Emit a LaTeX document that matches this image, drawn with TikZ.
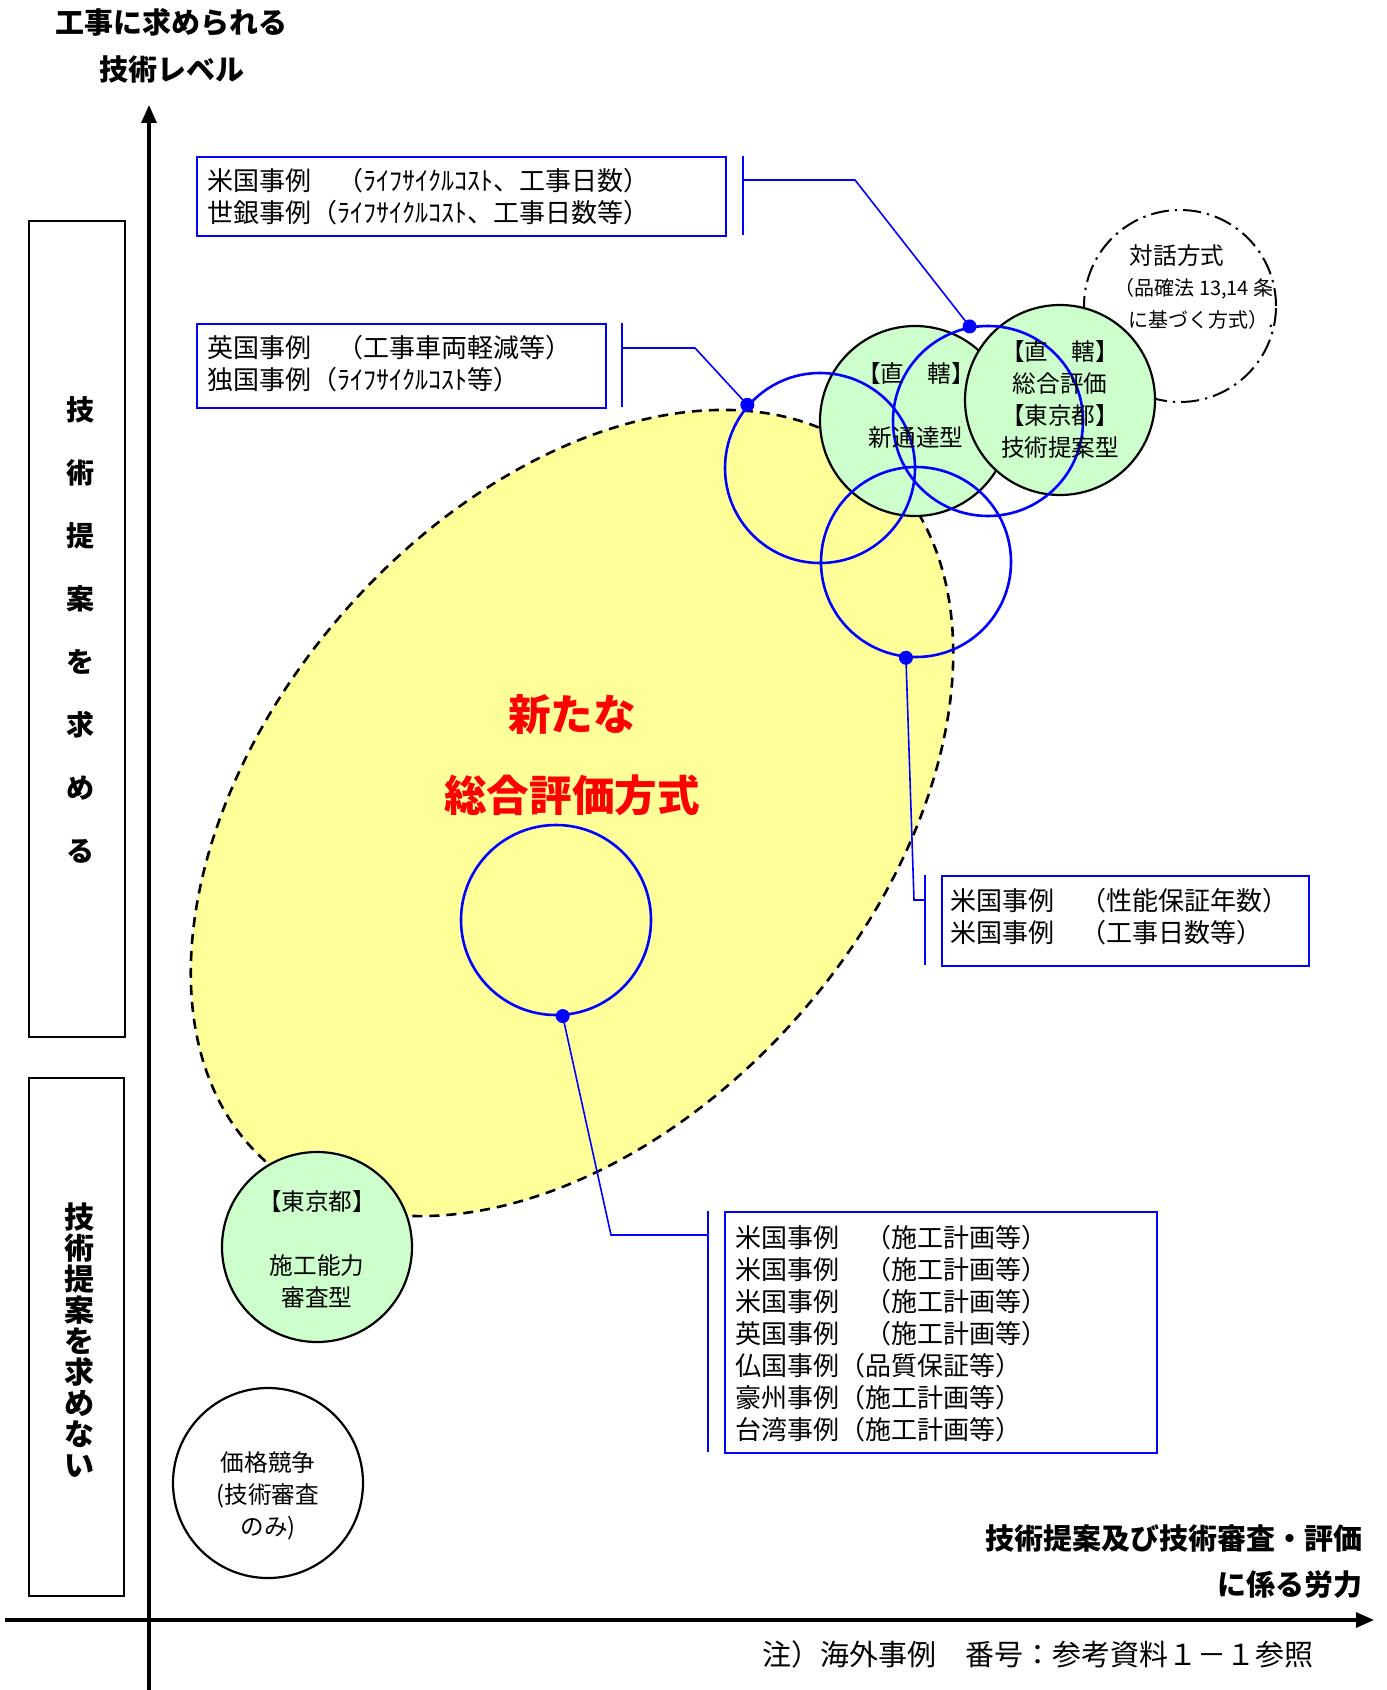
\documentclass[tikz,border=0pt]{standalone}
\usepackage{fontspec}
\setmainfont{Noto Sans CJK JP}
\usetikzlibrary{arrows.meta,shapes.geometric}
\definecolor{ylw}{HTML}{FFFF99}
\definecolor{grn}{HTML}{CCFFCC}
\definecolor{blu}{HTML}{0000FF}
\definecolor{rd}{HTML}{FF0000}
\newcommand{\fsz}[2]{\fontsize{#1}{#2}\selectfont}
\begin{document}
\begin{tikzpicture}[x=0.5pt,y=-0.5pt,
  axisline/.style={line width=1.6pt,-{Triangle[length=9pt,width=7.5pt]}},
  sidebox/.style={draw,line width=0.9pt,inner sep=0},
  gcirc/.style={circle,draw,line width=1.1pt,fill=grn,minimum size=95pt,inner sep=0},
  wcirc/.style={circle,draw,line width=1.1pt,fill=white,minimum size=95pt,inner sep=0},
  bcirc/.style={circle,draw=blu,line width=1.3pt,minimum size=95pt,inner sep=0},
  casebox/.style={draw=blu,line width=1pt,anchor=north west,inner sep=0},
  conn/.style={blu,line width=0.8pt},
  dotm/.style={circle,fill=blu,inner sep=0,minimum size=7pt},
  ctext/.style={font=\fsz{11.8}{16},align=center,inner sep=0},
  btext/.style={font=\fsz{13}{16},align=left,anchor=west,inner sep=0},
  ttl/.style={font=\bfseries\fsz{14.5}{18},inner sep=0},
]
\useasboundingbox (0,0) rectangle (1386,1690);

% axes
\coordinate (yb) at (149,1690);
\coordinate (yt) at (149,105);
\coordinate (xl) at (5,1620);
\coordinate (xr) at (1374,1620);
\draw[axisline] (yb) -- (yt);
\draw[axisline] (xl) -- (xr);

% side boxes
\node[sidebox,minimum width=48pt,minimum height=408pt] (sb1) at (77,629) {};
\node[sidebox,minimum width=47.5pt,minimum height=259pt] (sb2) at (76.5,1337) {};
\node[font=\bfseries\fsz{14}{31.5},align=center,inner sep=0] (s1t) at (80,630) {技\\術\\提\\案\\を\\求\\め\\る};
\node[font=\bfseries\fsz{15}{15.5},align=center,inner sep=0] (s2t) at (79,1340) {技\\術\\提\\案\\を\\求\\め\\な\\い};

% titles
\node[ttl] (ti1) at (171,22) {工事に求められる};
\node[ttl] (ti2) at (172,69) {技術レベル};
\node[ttl,anchor=east] (xl1) at (1363,1538) {技術提案及び技術審査・評価};
\node[ttl,anchor=east] (xl2) at (1363,1585) {に係る労力};
\node[font=\fsz{14.5}{18},inner sep=0] (note) at (1038,1654) {注）海外事例　番号：参考資料１－１参照};

% yellow ellipse
\node[ellipse,draw,line width=1.3pt,dash pattern=on 5pt off 3.5pt,fill=ylw,
      minimum width=464pt,minimum height=304pt,inner sep=0,rotate=49] (newway) at (572,813) {};

% dialog circle
\node[circle,draw,line width=1pt,dash pattern=on 9pt off 3pt on 1.2pt off 3pt,
      minimum size=96pt,inner sep=0] (dlg) at (1180,306) {};

% green / white circles
\node[gcirc] (g1) at (915,421) {};
\node[gcirc] (g2) at (1060,400) {};
\node[gcirc] (g3) at (317,1247) {};
\node[wcirc] (w1) at (268,1483) {};

% blue circles
\node[bcirc] (cA) at (820,468) {};
\node[bcirc] (cB) at (988,421) {};
\node[bcirc] (cC) at (916,562) {};
\node[bcirc] (cD) at (556,920) {};

% circle texts
\node[ctext] (g1a) at (916,374) {【直　轄】};
\node[ctext] (g1b) at (916,438) {新通達型};
\node[ctext] (g2t) at (1060,399) {【直　轄】\\総合評価\\【東京都】\\技術提案型};
\node[ctext] (g3a) at (317,1202) {【東京都】};
\node[ctext] (g3b) at (317,1281) {施工能力\\審査型};
\node[ctext] (wt) at (268,1496) {価格競争\\(技術審査\\のみ)};
\node[font=\fsz{11.8}{14},inner sep=0] (dl1) at (1177,256) {対話方式};
\node[font=\fsz{10}{13},inner sep=0] (dl2) at (1194,289) {（品確法 13,14 条};
\node[font=\fsz{10}{13},inner sep=0] (dl3) at (1201,320) {に基づく方式）.};

% red text
\node[font=\bfseries\fsz{21.3}{26},text=rd,inner sep=0] (r1) at (572,715) {新たな};
\node[font=\bfseries\fsz{21.3}{26},text=rd,inner sep=0] (r2) at (572,795) {総合評価方式};

% case boxes
\node[casebox,minimum width=264.5pt,minimum height=39.5pt] (b1) at (196,156) {};
\node[casebox,minimum width=204.5pt,minimum height=42pt] (b2) at (196,323) {};
\node[casebox,minimum width=183.5pt,minimum height=45pt] (b3) at (941,875) {};
\node[casebox,minimum width=216pt,minimum height=120.5pt] (b4) at (724,1211) {};

\node[btext] (t1) at (207,197) {米国事例　（ﾗｲﾌｻｲｸﾙｺｽﾄ、工事日数）\\世銀事例（ﾗｲﾌｻｲｸﾙｺｽﾄ、工事日数等）};
\node[btext] (t2) at (207,364) {英国事例　（工事車両軽減等）\\独国事例（ﾗｲﾌｻｲｸﾙｺｽﾄ等）};
\node[btext] (t3) at (950,917) {米国事例　（性能保証年数）\\米国事例　（工事日数等）};
\node[btext] (t4) at (735,1334) {米国事例　（施工計画等）\\米国事例　（施工計画等）\\米国事例　（施工計画等）\\英国事例　（施工計画等）\\仏国事例（品質保証等）\\豪州事例（施工計画等）\\台湾事例（施工計画等）};

% brackets
\coordinate (k1t) at (743,156); \coordinate (k1b) at (743,235);
\coordinate (k2t) at (622,323); \coordinate (k2b) at (622,407);
\coordinate (k3t) at (925,875); \coordinate (k3b) at (925,965);
\coordinate (k4t) at (708,1211); \coordinate (k4b) at (708,1452);
\draw[conn] (k1t) -- (k1b);
\draw[conn] (k2t) -- (k2b);
\draw[conn] (k3t) -- (k3b);
\draw[conn] (k4t) -- (k4b);

% dots
\node[dotm] (p1) at (cB.101) {};
\node[dotm] (p2) at (cA.139) {};
\node[dotm] (p3) at (cC.264) {};
\node[dotm] (p4) at (cD.274) {};

% connectors
\coordinate (e1) at (855,180); \coordinate (k1) at (743,180);
\coordinate (e2) at (695,348); \coordinate (k2) at (622,348);
\coordinate (e3) at (914,900); \coordinate (k3) at (925,900);
\coordinate (e4) at (611,1235); \coordinate (k4) at (708,1235);
\draw[conn] (p1.center) -- (e1) -- (k1);
\draw[conn] (p2.center) -- (e2) -- (k2);
\draw[conn] (p3.center) -- (e3) -- (k3);
\draw[conn] (p4.center) -- (e4) -- (k4);
\end{tikzpicture}
\end{document}
